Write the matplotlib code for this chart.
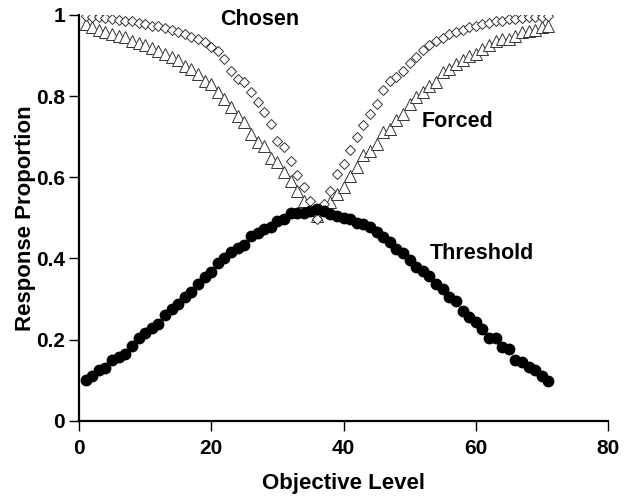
import matplotlib
matplotlib.use("Agg")
import matplotlib.pyplot as plt
from matplotlib.ticker import FuncFormatter

plt.rcParams['font.family'] = ['Liberation Sans', 'DejaVu Sans']

levels = list(range(1, 72))

threshold = [0.101, 0.109, 0.124, 0.131, 0.149, 0.157, 0.164, 0.184, 0.203, 0.215,
             0.229, 0.238, 0.260, 0.275, 0.288, 0.304, 0.318, 0.337, 0.353, 0.366,
             0.389, 0.401, 0.417, 0.426, 0.434, 0.455, 0.463, 0.473, 0.477, 0.492,
             0.496, 0.511, 0.511, 0.511, 0.516, 0.523, 0.517, 0.510, 0.505, 0.500,
             0.496, 0.488, 0.486, 0.478, 0.466, 0.453, 0.440, 0.424, 0.414, 0.397,
             0.378, 0.370, 0.356, 0.337, 0.324, 0.306, 0.296, 0.270, 0.256, 0.244,
             0.225, 0.205, 0.203, 0.182, 0.176, 0.149, 0.145, 0.132, 0.124, 0.109,
             0.098]

chosen = [0.997, 0.996, 0.995, 0.992, 0.991, 0.988, 0.986, 0.984, 0.980, 0.978,
          0.974, 0.972, 0.967, 0.963, 0.958, 0.954, 0.947, 0.941, 0.933, 0.921,
          0.912, 0.892, 0.863, 0.843, 0.834, 0.810, 0.785, 0.760, 0.732, 0.690,
          0.674, 0.641, 0.606, 0.577, 0.541, 0.497, 0.534, 0.567, 0.608, 0.633,
          0.668, 0.700, 0.730, 0.755, 0.781, 0.814, 0.838, 0.847, 0.861, 0.881,
          0.896, 0.914, 0.925, 0.935, 0.944, 0.952, 0.958, 0.963, 0.970, 0.974,
          0.978, 0.981, 0.984, 0.986, 0.990, 0.991, 0.993, 0.995, 0.995, 0.996,
          0.997]

forced = [0.978, 0.970, 0.963, 0.959, 0.954, 0.949, 0.945, 0.937, 0.930, 0.925,
          0.918, 0.912, 0.904, 0.896, 0.888, 0.875, 0.867, 0.855, 0.838, 0.829,
          0.810, 0.793, 0.773, 0.752, 0.736, 0.707, 0.688, 0.676, 0.647, 0.637,
          0.614, 0.590, 0.565, 0.541, 0.520, 0.505, 0.525, 0.538, 0.559, 0.576,
          0.604, 0.625, 0.654, 0.666, 0.681, 0.711, 0.719, 0.740, 0.756, 0.781,
          0.797, 0.810, 0.826, 0.834, 0.859, 0.867, 0.880, 0.888, 0.900, 0.904,
          0.916, 0.925, 0.937, 0.941, 0.941, 0.949, 0.958, 0.960, 0.963, 0.970,
          0.972]

x_ticks = [0, 20, 40, 60, 80]
y_ticks = [0, 0.2, 0.4, 0.6, 0.8, 1.0]

fig = plt.figure(figsize=(6.29, 5.04), dpi=100)
ax = fig.add_axes([79 / 629, 83.3 / 504, (608 - 79) / 629, (420.7 - 15) / 504])

ax.plot(levels, forced, linestyle='none', marker='^', markersize=8,
        markerfacecolor='white', markeredgecolor='#333333', markeredgewidth=0.7, zorder=2)
ax.plot(levels, chosen, linestyle='none', marker='D', markersize=5.5,
        markerfacecolor='white', markeredgecolor='#333333', markeredgewidth=0.7, zorder=3)
ax.plot(levels, threshold, linestyle='none', marker='o', markersize=7.5,
        markerfacecolor='black', markeredgecolor='black', zorder=4)

ax.set_xlim(0, 80)
ax.set_ylim(0, 1)
ax.set_xticks(x_ticks)
ax.set_yticks(y_ticks)
ax.yaxis.set_major_formatter(FuncFormatter(lambda v, p: ('%g' % v)))
ax.spines['top'].set_visible(False)
ax.spines['right'].set_visible(False)
ax.spines['left'].set_linewidth(1.6)
ax.spines['bottom'].set_linewidth(1.6)
ax.tick_params(axis='both', direction='out', length=7, width=1.0, labelsize=15)
ax.tick_params(axis='y', pad=3)
ax.tick_params(axis='x', pad=6)
for lab in ax.get_xticklabels() + ax.get_yticklabels():
    lab.set_fontweight('bold')

ax.set_xlabel('Objective Level', fontsize=16, fontweight='bold', labelpad=11)
ax.set_ylabel('Response Proportion', fontsize=16, fontweight='bold', labelpad=0)

ax.text(27.3, 0.988, 'Chosen', fontsize=15.5, fontweight='bold', ha='center', va='center')
ax.text(57.3, 0.738, 'Forced', fontsize=15.5, fontweight='bold', ha='center', va='center')
ax.text(61.0, 0.413, 'Threshold', fontsize=15.5, fontweight='bold', ha='center', va='center')

fig.savefig('out.png', dpi=100)
